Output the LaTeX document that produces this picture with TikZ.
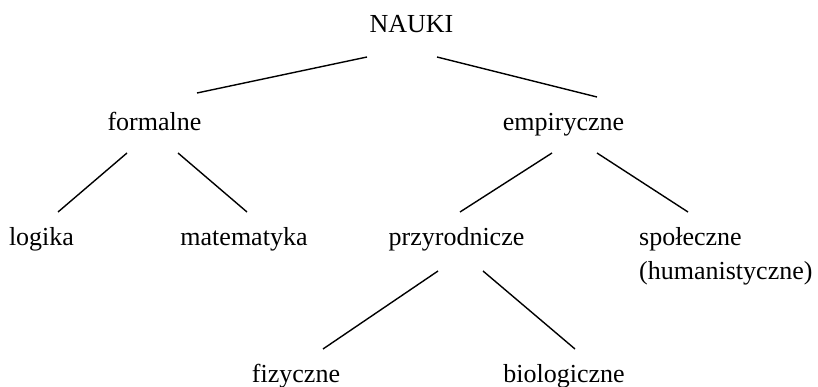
\documentclass[tikz,border=0pt]{standalone}
\usepackage{fontspec}
\setmainfont{Liberation Serif}
\begin{document}
\begin{tikzpicture}[x=1pt,y=-1pt,
  lbl/.style={anchor=base,inner sep=0pt,font=\fontsize{26}{30}\selectfont},
  edge/.style={line width=1.4pt}]
\useasboundingbox (0,0) rectangle (818,387);
% nodes
\node[lbl] (nauki) at (411.5,33) {NAUKI};
\node[lbl] (formalne) at (154.5,131) {formalne};
\node[lbl] (empiryczne) at (563.5,131) {empiryczne};
\node[lbl] (logika) at (41.5,245) {logika};
\node[lbl] (matematyka) at (244,245) {matematyka};
\node[lbl] (przyrodnicze) at (456.5,245) {przyrodnicze};
\node[lbl,anchor=base west] (spoleczne) at (639,245) {społeczne};
\node[lbl,anchor=base west] (humanistyczne) at (639,279) {(humanistyczne)};
\node[lbl] (fizyczne) at (296,382) {fizyczne};
\node[lbl] (biologiczne) at (564,382) {biologiczne};
% connector end points
\coordinate (nA) at (367,57);   \coordinate (fT) at (197,93);
\coordinate (nB) at (437,57);   \coordinate (eT) at (597,97);
\coordinate (fA) at (127,153);  \coordinate (lT) at (58,212);
\coordinate (fB) at (178,153);  \coordinate (mT) at (247,212);
\coordinate (eA) at (552,153);  \coordinate (pT) at (460,212);
\coordinate (eB) at (597,153);  \coordinate (sT) at (688,212);
\coordinate (pA) at (438,271);  \coordinate (zT) at (323,349);
\coordinate (pB) at (483,271);  \coordinate (bT) at (575,349);
% connectors
\draw[edge] (nA) -- (fT);
\draw[edge] (nB) -- (eT);
\draw[edge] (fA) -- (lT);
\draw[edge] (fB) -- (mT);
\draw[edge] (eA) -- (pT);
\draw[edge] (eB) -- (sT);
\draw[edge] (pA) -- (zT);
\draw[edge] (pB) -- (bT);
\end{tikzpicture}
\end{document}
